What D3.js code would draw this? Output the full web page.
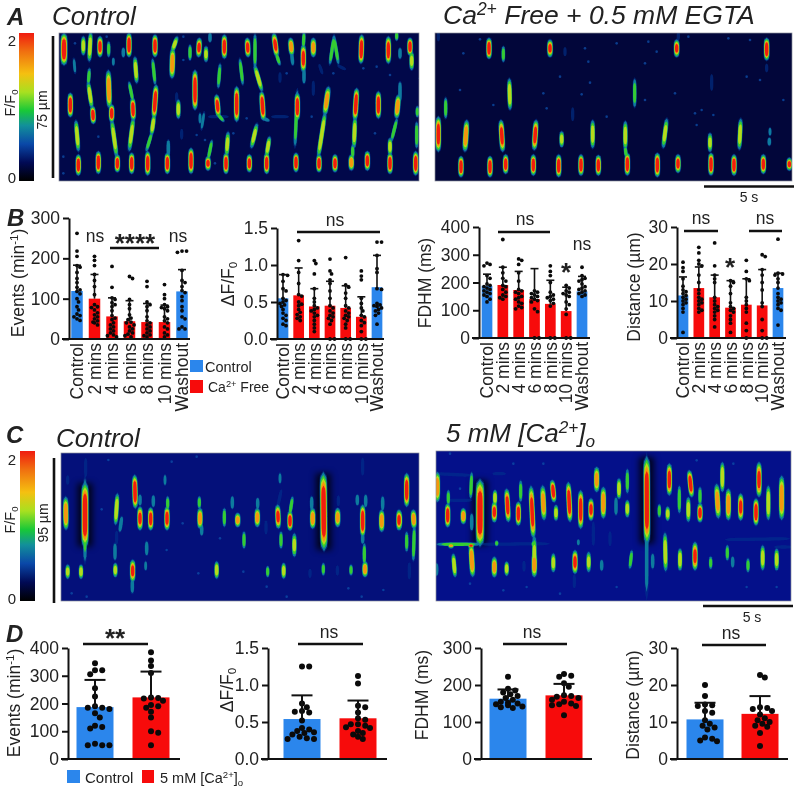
<!DOCTYPE html>
<html><head><meta charset="utf-8">
<script src="https://cdnjs.cloudflare.com/ajax/libs/d3/7.8.5/d3.min.js"></script>
<style>html,body{margin:0;padding:0;background:#fff}svg{display:block}
text{font-family:"Liberation Sans",Arial,sans-serif;fill:#222}</style></head><body>
<svg id="c" width="800" height="800"></svg>
<script>
// ---------- bar chart data ----------
const minuteCats = ["Control","2 mins","4 mins","6 mins","8 mins","10 mins","Washout"];
const twoCats = ["Control","5 mM"];
const eventsMeanB = [119,100,56,44,42,42,118];
const eventsUpperB = [183,160,102,95,88,84,172];
const eventsDotsB = [
 [262,218,205,182,178,165,150,140,128,122,118,112,100,92,80,72,62,58,55,50,46],
 [205,195,182,160,145,130,110,85,80,78,72,65,60,55,50,45,42,40,35],
 [180,128,102,98,90,85,80,70,58,52,48,40,35,30,25,20,15,10,8,5],
 [155,150,98,85,75,60,52,48,42,40,35,30,25,20,15,12,8,5],
 [143,130,92,85,80,70,55,45,40,35,30,25,20,15,10,8,5],
 [135,110,100,85,80,78,75,70,55,50,45,40,30,25,15,10,5],
 [218,218,215,170,145,140,130,120,115,105,95,80,70,55,50,30,25,25]];
const dffMeanB = [0.55,0.59,0.44,0.45,0.42,0.30,0.70];
const dffUpperB = [0.87,0.96,0.68,0.78,0.72,0.57,1.13];
const dffDotsB = [
 [0.87,0.86,0.78,0.68,0.65,0.55,0.52,0.50,0.48,0.46,0.44,0.4,0.35,0.32,0.28,0.25,0.2,0.18],
 [1.33,1.06,0.9,0.75,0.6,0.58,0.5,0.47,0.45,0.4,0.36,0.33,0.3,0.28,0.25],
 [1.06,1.02,0.88,0.68,0.55,0.5,0.45,0.42,0.4,0.38,0.35,0.32,0.3,0.25,0.2,0.15,0.1],
 [1.08,0.92,0.88,0.8,0.75,0.65,0.55,0.45,0.42,0.38,0.35,0.32,0.3,0.28,0.25,0.2,0,0],
 [1.1,0.73,0.7,0.62,0.55,0.45,0.42,0.38,0.35,0.32,0.3,0.28,0.25,0.2,0.15,0,0],
 [0.92,0.85,0.8,0.55,0.48,0.42,0.38,0.32,0.3,0.25,0.22,0.18,0.1,0,0],
 [1.31,1.31,1.13,0.95,0.9,0.68,0.67,0.48,0.46,0.45,0.44,0.42,0.4,0.38,0.35,0.32,0.2]];
const fdhmMeanB = [188,191,173,140,123,97,168];
const fdhmUpperB = [230,255,240,250,208,183,222];
const fdhmDotsB = [
 [270,265,260,225,215,195,190,185,180,175,170,165,160,155,150,140,130],
 [355,255,235,215,205,190,185,175,165,155,150,145,140],
 [285,280,265,235,205,175,170,165,160,150,145,140,130,125,115,110,105],
 [170,165,160,155,150,145,140,135,130,105,95,0,0],
 [260,240,225,200,165,155,150,145,140,135,125,115,0,0],
 [190,180,170,165,160,155,150,130,120,105,85,0,0],
 [255,225,215,210,205,195,185,180,175,170,165,160,155,150]];
const distMeanB = [11.5,13.5,11,8.2,9,8.8,13.5];
const distUpperB = [16.5,19.2,17,15.5,16,18.5,17.5];
const distDotsB = [
 [20.5,19,18,16,14,13,12.5,12,11.5,11,10.5,10,9.5,9,8,7,1.5],
 [24.5,23,21,20,19.5,17,15,13,12,11,10.5,10,9.5,9,8,7.5,7],
 [25.7,19.5,17,16,15,11,10,9,8.5,8,7.5,7,6,5,3],
 [15.5,15,14,12,9.5,8.5,8,7.5,7,6,5,4,1.5],
 [21,18,16,15.5,11,10,9,8,7,4,2,0],
 [22.5,22,18.5,17,15,13,9.5,8.5,5,2,0,0],
 [26.7,17.5,17.3,17,16,15,13.5,12,11,10.5,10,9.5,9,8,7.5,3.5]];
const eventsMeanD = [187,222], eventsUpperD = [285,315];
const eventsDotsD = [
 [345,320,320,305,255,225,190,185,185,180,165,150,120,115,110,55,50,50,50],
 [385,355,335,310,222,220,218,210,195,190,185,170,150,100,95,50]];
const dffMeanD = [0.54,0.55], dffUpperD = [0.86,0.79];
const dffDotsD = [
 [1.25,1.25,0.75,0.7,0.65,0.64,0.63,0.52,0.42,0.4,0.38,0.36,0.35,0.33,0.3,0.28,0.27,0.27],
 [1.12,1.02,0.72,0.7,0.63,0.55,0.53,0.47,0.47,0.45,0.43,0.42,0.38,0.35,0.33,0.3,0.27]];
const fdhmMeanD = [163,172], fdhmUpperD = [188,203];
const fdhmDotsD = [
 [222,190,185,180,175,170,165,160,155,152,150,148,145,142,140,138],
 [230,225,222,205,195,172,170,168,165,160,155,150,148,145,143,118]];
const distMeanD = [10.7,12.2], distUpperD = [15.2,17];
const distDotsD = [
 [20,17,14.7,14.5,14.3,13,12.5,10.5,9.5,9,8.5,8,5.8,5.5,5,4.8],
 [22.7,22,14,13.8,13.5,13,12,11,10.5,10,9.5,9,8.7,7,3.5]];
const barColorsB = ["#2b86ec","#f70b0b","#f70b0b","#f70b0b","#f70b0b","#f70b0b","#2b86ec"];
const barColorsD = ["#2b86ec","#f70b0b"];

// ---------- line-scan data: [line0, pixel0, line1, pixel1, peak F/F0, width factor] ----------
const scanAControl = [
[192,105,192,190,2,1.25],[250,115,250,160,1.3],[272,100,268,180,1.3],[300,115,300,165,1.8],[326,130,326,165,1],[370,150,370,165,.8],
[387,105,387,165,2],[465,110,465,165,1.9],[530,115,518,150,1.2],[518,150,516,230,1.6],[570,140,570,175,1.1],[598,120,596,165,1.7],
[618,145,618,180,1.2],[630,105,630,120,.8],[673,110,673,170,1.9],[742,120,744,165,1.8],[765,105,765,200,1.1],[765,200,785,270,1.3],
[785,280,790,355,2],[790,355,802,360,.9],[822,105,830,165,1.7],[830,165,838,190,1],[872,120,875,160,1.6],[875,160,878,190,.9],[912,100,910,140,1],
[910,140,910,210,1.8],[912,210,912,245,.8],[940,120,940,165,1.5],[1002,110,990,190,1.1],[1002,110,1015,190,1],[1085,110,1083,185,2],
[1165,115,1165,185,1.9],[1190,100,1190,115,1],[405,175,410,245,1.3],[222,180,225,215,.6],[268,210,265,250,1],[265,250,275,320,1.3],
[278,325,280,365,2],[211,285,211,345,2],[325,215,328,320,1.6],[335,320,335,360,2],[335,360,350,470,1.2],[352,470,352,510,2],
[340,180,340,190,.6],[388,250,398,300,1.1],[398,300,400,355,2],[400,355,388,450,1.2],[458,180,465,250,1.1],[468,260,462,350,2],
[462,350,455,400,1.4],[455,400,440,450,1],[535,305,535,350,1.4],[585,215,585,325,2],[660,195,655,260,1],[650,290,655,345,1.8],
[655,345,668,360,1],[710,265,710,360,2],[720,180,728,250,1.1],[612,340,605,385,.6],[228,365,235,450,1.3],[235,470,235,520,2],
[295,460,295,515,2],[395,465,395,515,2],[443,460,443,520,2],[502,465,502,515,2],[505,425,505,465,.8],[573,450,573,515,2],
[624,475,624,505,1.7],[635,425,625,475,1.1],[678,465,678,515,2],[684,400,680,465,1.2],[748,470,748,510,1.9],[770,375,755,440,1.2],
[800,465,800,515,2],[808,415,800,465,1.3],[892,285,892,355,2],[892,270,885,440,1.1],[888,465,888,510,2],[985,265,975,340,1.5],
[975,340,955,470,1.4],[957,470,957,510,2],[1070,270,1065,355,2],[1065,355,1062,440,1.3],[1135,280,1135,350,2],[1005,470,1005,510,1.9],
[1054,470,1054,505,1.6],[1058,440,1058,470,1],[1102,460,1102,505,1.9],[1170,420,1170,460,1.3],[1170,465,1170,515,2],[1195,290,1190,350,1.6],
[1190,360,1175,420,1.1],[1230,120,1230,160,2],[1235,160,1235,205,1.2],[1200,150,1200,170,.8],[1200,250,1200,300,.9],[1252,325,1252,345,1],
[1250,370,1250,440,1.1],[1247,460,1247,520,2],[545,395,545,410,.5],[630,350,680,350,.4],[820,350,860,350,.4],[530,285,530,300,.45],
[840,225,840,240,.45],[940,250,940,280,.5],[600,345,600,365,.6],[1020,200,1030,205,.4],[960,200,965,215,.4]];
const specksAControl = [[225,130],[320,110],[550,110],[550,180],[190,470],[295,410],[590,405],[615,420],[645,490],[700,400],[860,220],[1000,220],[1090,205],[1130,200],[1125,400],[740,355],[935,350],[1170,225],[1260,235],[190,520]];
const scanAFree = [
[267,120,267,170,2],[310,145,310,180,1.1],[450,125,450,165,1.7],[830,125,830,165,1.7],[1100,120,1100,175,2],[835,105,835,112,.5],
[328,240,330,325,1.4],[704,240,704,318,1],[935,230,935,265,.55],[137,298,137,350,1.1],[115,355,115,450,1.9],[200,365,195,450,1.6],
[303,365,308,450,1.8],[408,365,403,445,1.8],[485,400,485,435,1.3],[578,365,578,440,1.3],[676,368,676,445,1.3],[800,360,790,440,1.2],
[1022,360,1018,445,1.3],[930,405,930,450,1.2],[1110,390,1110,400,.6],[1108,420,1108,430,.7],[518,330,518,355,.5],[183,475,183,525,2],
[270,475,270,525,2],[317,470,317,515,2],[400,470,400,520,2],[476,470,476,525,2],[543,470,543,520,2],[595,472,595,520,2],[682,465,682,520,2],
[676,445,678,465,1],[772,465,772,525,2],[834,470,834,512,1.8],[933,465,933,520,2],[1002,470,1002,520,2],[1090,470,1090,515,1.9],[1168,480,1168,505,1.7],
[115,105,115,115,.5],[495,150,495,160,.4],[1100,200,1100,208,.45]];
const specksAFree = [[240,118],[190,160],[555,145],[770,155],[565,185],[985,115],[1050,120],[180,270],[430,280],[280,315],[545,283],[440,325],[620,350],[735,300],[825,280],[885,340],[905,330],[940,345],[1150,300],[1080,240],[890,375],[735,190],[480,230],[570,248],[1040,230],[650,130],[745,125],[865,110]];
const scanCControl = [
[255,190,255,380,2,1.3],[255,170,255,430,1.1],[197,235,198,325,1.6],[203,440,203,470,1.3],[243,440,243,470,1.4],[203,175,203,185,.5],[257,120,257,165,.4],
[352,225,347,310,1.4],[365,295,360,330,.9],[345,375,345,415,.9],[346,435,346,465,1.3],[350,340,350,365,.45],[404,170,406,260,2],[420,230,420,250,.9],
[420,265,420,325,1.7],[398,425,398,480,1.7],[397,480,397,515,.7],[460,232,460,255,.9],[452,268,452,325,1.8],[440,370,440,400,.9],[437,430,437,445,.6],
[495,170,495,190,.6],[503,235,503,265,1],[501,265,501,325,1.8],[598,235,598,260,1],[600,270,600,320,1.6],[605,320,605,340,.9],[650,430,650,470,1.4],
[673,270,673,315,1.1],[697,235,697,260,.9],[713,285,713,315,1.5],[732,340,732,380,1.1],[773,240,773,260,.9],[772,270,772,315,1.5],[803,445,803,465,1.1],
[798,310,798,335,.5],[840,165,840,185,.6],[843,215,833,260,.5],[833,260,835,320,1.7],[843,340,843,380,1.1],[851,435,851,470,1.4],[877,235,870,280,1.1],
[870,280,870,325,1.9],[883,345,883,405,1.2],[935,235,935,265,.9],[938,270,938,320,1.6],[970,160,972,390,2,1.3],[970,435,970,460,1],[1013,270,1013,315,1.5],
[1015,235,1015,250,.5],[1053,440,1053,460,1],[930,455,930,465,.45],[1012,445,1012,458,.5],[1072,230,1072,250,.8],[1088,260,1088,345,2],[1097,230,1097,255,.9],
[1088,120,1088,160,.4],[1093,375,1093,430,1.1],[1095,430,1095,465,1.6],[1088,345,1088,365,.9],[1148,235,1148,265,.9],[1145,275,1145,330,1.6],[1197,275,1197,325,1.7],
[1220,165,1220,255,1.9],[1200,280,1200,320,1.3],[1240,275,1242,320,1.6],[1243,320,1240,420,1.1],[1220,340,1220,390,1],[1228,435,1228,470,.5]];
const specksCControl = [[305,268],[548,310],[660,355],[595,460],[730,455],[500,390],[215,520],[1045,505],[1150,510],[800,500],[325,120],[515,125],[590,110],[860,530],[260,530],[1085,530]];
const scanCHigh = [
[112,160,112,240,1.6],[145,215,145,250,1],[143,255,143,315,1.9],[215,160,212,230,1.1],[190,270,190,305,1.6],[215,285,215,325,.9],[240,180,240,375,2,1.5],
[285,215,285,250,1.4],[283,250,283,300,1.7],[320,210,325,300,1.8],[362,185,362,240,1],[355,250,355,310,1.9],[393,200,400,350,1.8],[403,350,403,465,1.2],
[428,200,432,295,1.5],[457,185,462,240,1.9],[468,260,468,295,1.3],[505,190,510,300,1.9],[542,215,542,320,1.9],[573,240,573,295,1.7],[590,145,590,210,1.5],
[610,205,610,290,1.6],[657,180,657,230,1.4],[648,235,648,280,.8],[682,150,682,215,1],[682,245,682,285,1.3],[740,95,740,540,.9],[740,110,741,370,2,1.2],
[778,258,778,285,1.1],[808,135,808,220,1.8],[803,265,803,295,1.3],[838,200,838,275,1.1],[868,155,875,225,1.9],[865,235,865,300,1.3],[900,205,900,250,1],
[900,255,900,300,1.8],[950,195,955,290,1.5],[967,130,967,210,1.4],[985,210,985,295,1.6],[1022,225,1022,295,1.7],[1068,240,1068,310,1.9],[1077,130,1077,225,1.7],
[1105,200,1105,295,1.4],[1145,170,1145,295,1.6],[110,435,110,460,.9],[160,405,165,465,1.4],[213,375,218,465,1.6],[283,415,283,465,1.5],[320,430,320,460,1.4],
[403,400,403,465,1.5],[372,430,372,445,.5],[460,405,460,450,1.3],[525,395,525,455,1.7],[523,470,523,495,.5],[566,400,566,450,1.2],[605,425,605,445,.9],
[695,395,690,440,1.1],[758,405,758,440,.8],[795,340,797,450,1.3],[840,390,840,445,1.4],[885,370,885,445,1.7],[932,415,932,440,1],[982,380,982,415,1],
[998,415,998,435,.9],[1044,420,1044,450,1],[1088,380,1088,445,1.3],[1130,390,1130,445,1.3],[110,372,240,372,1.1],[110,160,210,165,.5],[150,240,210,240,.5],
[285,160,310,160,.4],[240,372,450,370,.5],[153,375,153,377,1.5],[213,375,213,377,1.7],[290,368,290,370,1],[400,370,400,372,1],[535,365,535,367,.6],
[975,358,1170,355,.5],[1130,380,1170,380,.5],[580,310,580,370,.5],[630,340,630,370,.35]];
const specksCHigh = [[180,205],[340,130],[430,130],[150,100],[310,510],[380,500],[210,490],[650,500],[890,120],[1040,500],[1130,500],[480,520],[1000,130]];

// colour map of the F/F0 bars
const cmapDomain = [0,0.25,0.5,0.75,0.95,1.2,1.45,1.75,2];
const cmapColors = ["#000000","#010a55","#0a48a8","#12909a","#18c838","#a8e020","#f5c010","#f07010","#f01c10"];
const cmap = d3.scaleLinear().domain(cmapDomain).range(cmapColors).clamp(true);

const svg = d3.select("#c");
const defs = svg.append("defs");
defs.append("filter").attr("id","soft").append("feGaussianBlur").attr("stdDeviation",0.6);
defs.append("filter").attr("id","wideBlur").attr("x","-100%").attr("width","300%").append("feGaussianBlur").attr("stdDeviation",3);
const clipId = (function(){let n=0;return ()=>"clip"+(++n);})();

function rich(sel, parts){
  parts.forEach(p=>{
    const s = (typeof p==="string")?{t:p}:p;
    const ts = sel.append("tspan").text(s.t);
    if(s.sup){ts.attr("baseline-shift","0.5em").style("font-size","66%");}
    if(s.sub){ts.attr("baseline-shift","-0.3em").style("font-size","66%");}
  });
  return sel;
}
function label(x,y,parts,opt={}){
  const t = svg.append("text").attr("x",x).attr("y",y)
    .style("font-size",(opt.size||17)+"px")
    .style("font-style",opt.italic?"italic":"normal")
    .style("font-weight",opt.bold?"bold":"normal")
    .attr("text-anchor",opt.anchor||"start");
  if(opt.rotate) t.attr("transform",`rotate(-90 ${x} ${y})`);
  return rich(t,Array.isArray(parts)?parts:[parts]);
}

// ---------- heat maps ----------
const layers = [
 {level:0.3,color:0.42,w:6.6,ext:2.2,op:.6},{level:0.6,color:0.68,w:5.6,ext:1.6},{level:0.95,color:1.0,w:5,ext:.8},
 {level:1.2,color:1.25,w:4.4,ext:0},{level:1.45,color:1.6,w:3.9,ext:0},{level:1.7,color:2,w:3.4,ext:0}];
const spindleLine = d3.line().curve(d3.curveLinearClosed);
function spindle(x1,y1,x2,y2,hw){
  const dx=x2-x1, dy=y2-y1, len=Math.hypot(dx,dy)||1;
  const ux=dx/len, uy=dy/len, nx=-uy, ny=ux;
  const p=2+len/14, N=16, left=[], right=[];
  for(let i=0;i<=N;i++){
    const s=i/N*2-1, w=hw*Math.pow(Math.max(0,1-Math.pow(Math.abs(s),p)),.5);
    const px=x1+dx*(s+1)/2, py=y1+dy*(s+1)/2;
    left.push([px+nx*w,py+ny*w]); right.unshift([px-nx*w,py-ny*w]);
  }
  return spindleLine(left.concat(right));
}
function scan(box,domX,domY,bg,events,specks){
  const x = d3.scaleLinear().domain(domX).range([box.x0,box.x1]);
  const y = d3.scaleLinear().domain(domY).range([box.y0,box.y1]);
  const id = clipId();
  defs.append("clipPath").attr("id",id).append("rect")
    .attr("x",box.x0).attr("y",box.y0).attr("width",box.x1-box.x0).attr("height",box.y1-box.y0);
  svg.append("rect").attr("x",box.x0).attr("y",box.y0).attr("width",box.x1-box.x0).attr("height",box.y1-box.y0).attr("fill",bg);
  const outer = svg.append("g").attr("clip-path",`url(#${id})`);
  outer.append("g").attr("filter","url(#wideBlur)").selectAll("line").data(events.filter(e=>e[5])).join("line")
    .attr("x1",d=>x(d[0])).attr("x2",d=>x(d[2])).attr("y1",d=>y(d[1])).attr("y2",d=>y(d[3]))
    .attr("stroke","#000").attr("stroke-width",15).attr("opacity",.8);
  const g = outer.append("g").attr("filter","url(#soft)");
  g.selectAll("circle.speck").data(specks).join("circle").attr("class","speck")
    .attr("cx",d=>x(d[0])).attr("cy",d=>y(d[1])).attr("r",1.3).attr("fill",cmap(0.52)).attr("opacity",.75);
  layers.forEach(L=>{
    const act = events.filter(e=>e[4]>=L.level);
    g.append("g").selectAll("path").data(act).join("path")
      .attr("d",d=>{
        const a=d[4], f=Math.sqrt(Math.max(0,1-Math.pow(L.level/(a+0.25),2)));
        const x1=x(d[0]),y1=y(d[1]),x2=x(d[2]),y2=y(d[3]);
        const cx=(x1+x2)/2, cy=(y1+y2)/2, len=Math.hypot(x2-x1,y2-y1)||1;
        const half=len/2*f+L.ext+1;
        const ux=(x2-x1)/len, uy=len>1?(y2-y1)/len:1;
        const wf=(d[5]||1)*(a<0.7?0.5:a<1.2?0.62:a<1.5?0.8:1);
        return spindle(cx-ux*half,cy-uy*half,cx+ux*half,cy+uy*half,L.w/2*wf);
      })
      .attr("fill",cmap(L.color)).attr("opacity",L.op||1);
  });
  svg.append("rect").attr("x",box.x0).attr("y",box.y0).attr("width",box.x1-box.x0).attr("height",box.y1-box.y0)
    .attr("fill","none").attr("stroke","#8a8f9a").attr("stroke-width",.7);
}
scan({x0:59,x1:419,y0:33,y1:181},[177,1257],[99,543],"#01084a",scanAControl,specksAControl);
scan({x0:435,x1:792,y0:33,y1:181},[105,1176],[99,543],"#02063a",scanAFree,specksAFree);
scan({x0:61,x1:419,y0:453,y1:601},[183,1257],[99,543],"#04107a",scanCControl,specksCControl);
scan({x0:436,x1:791,y0:451,y1:601},[108,1173],[92,542],"#04108a",scanCHigh,specksCHigh);

// ---------- colour bars ----------
function colorbar(x,y0,y1,w){
  const s = d3.scaleLinear().domain([0,2]).range([y1,y0]);
  const id = clipId();
  const lg = defs.append("linearGradient").attr("id",id).attr("x1",0).attr("x2",0).attr("y1",1).attr("y2",0);
  cmapDomain.forEach((v,i)=>lg.append("stop").attr("offset",v/2).attr("stop-color",cmapColors[i]));
  svg.append("rect").attr("x",x).attr("y",s(2)).attr("width",w).attr("height",s(0)-s(2)).attr("fill",`url(#${id})`);
}
colorbar(19,33,181,15);
colorbar(20,451,601,15);
label(12,46,"2",{size:15,anchor:"middle"});
label(12,183,"0",{size:15,anchor:"middle"});
label(12,465,"2",{size:15,anchor:"middle"});
label(12,604,"0",{size:15,anchor:"middle"});
label(15,103,["F/F",{t:"0",sub:true}],{size:14.5,anchor:"middle",rotate:true});
label(15,520,["F/F",{t:"0",sub:true}],{size:14.5,anchor:"middle",rotate:true});
label(47,110,"75 µm",{size:14,anchor:"middle",rotate:true});
label(48,523,"95 µm",{size:14,anchor:"middle",rotate:true});
[[53,36,53,178],[54,458,54,603],[704,186.5,794,186.5],[703,606,793,606]].forEach(d=>{
  svg.append("line").attr("x1",d[0]).attr("y1",d[1]).attr("x2",d[2]).attr("y2",d[3]).attr("stroke","#111").attr("stroke-width",2.6);
});
label(749,202,"5 s",{size:14,anchor:"middle"});
label(752,622,"5 s",{size:14,anchor:"middle"});

// ---------- titles ----------
label(7,25,"A",{size:24,italic:true,bold:true});
label(52,25,"Control",{size:26,italic:true});
label(443,24,["Ca",{t:"2+",sup:true}," Free + 0.5 mM EGTA"],{size:26.5,italic:true});
label(7,226,"B",{size:24,italic:true,bold:true});
label(6,443,"C",{size:24,italic:true,bold:true});
label(56,447,"Control",{size:26,italic:true});
label(446,442,["5 mM [Ca",{t:"2+",sup:true},"]",{t:"o",sub:true}],{size:26,italic:true});
label(6,642,"D",{size:24,italic:true,bold:true});

// ---------- bar charts ----------
function swarm(vals,y,cx,r,maxOff){
  const placed=[];
  [...vals].sort((a,b)=>b-a).forEach(v=>{
    const py=y(v); let best=0, found=false;
    for(let k=0;k<=24&&!found;k++){
      const off=(k%2?1:-1)*Math.ceil(k/2)*r*0.8;
      if(Math.abs(off)>maxOff) continue;
      if(placed.every(p=>Math.hypot(p.x-(cx+off),p.y-py)>=r*1.75)){best=off;found=true;}
    }
    placed.push({x:cx+best,y:py});
  });
  return placed;
}
function barChart(c){
  const y = d3.scaleLinear().domain([0,c.ticks[c.ticks.length-1]]).range([c.bottom,c.top]);
  const step = (c.cLast-c.cFirst)/(c.cats.length-1);
  const x = d3.scaleBand().domain(c.cats).range([c.cFirst-step/2,c.cLast+step/2]).paddingInner(1-c.barW/step).paddingOuter((1-c.barW/step)/2);
  const g = svg.append("g");
  g.selectAll("rect").data(c.cats).join("rect")
    .attr("x",d=>x(d)).attr("width",x.bandwidth())
    .attr("y",(d,i)=>y(c.mean[i])).attr("height",(d,i)=>y(0)-y(c.mean[i]))
    .attr("fill",(d,i)=>c.colors[i]);
  c.cats.forEach((cat,i)=>{
    const cx=x(cat)+x.bandwidth()/2;
    g.append("g").selectAll("circle").data(swarm(c.dots[i],y,cx,c.r,c.maxOff)).join("circle")
      .attr("cx",d=>d.x).attr("cy",d=>d.y).attr("r",c.r).attr("fill","#0a0a0a");
    g.append("line").attr("x1",cx).attr("x2",cx).attr("y1",y(c.mean[i])).attr("y2",y(c.upper[i])).attr("stroke","#111").attr("stroke-width",c.ew);
    g.append("line").attr("x1",cx-c.cap).attr("x2",cx+c.cap).attr("y1",y(c.upper[i])).attr("y2",y(c.upper[i])).attr("stroke","#111").attr("stroke-width",c.ew);
  });
  const ya = svg.append("g").attr("transform",`translate(${c.ax},0)`)
    .call(d3.axisLeft(y).tickValues(c.ticks).tickSize(6).tickSizeOuter(0).tickPadding(3).tickFormat(c.fmt));
  ya.selectAll("path,line").attr("stroke","#111").attr("stroke-width",2);
  ya.selectAll("text").style("font-size","17.5px").style("font-family",'"Liberation Sans",Arial,sans-serif').attr("fill","#222");
  const xa = svg.append("g").attr("transform",`translate(0,${c.bottom})`)
    .call(d3.axisBottom(x).tickSize(0).tickSizeOuter(0));
  xa.select("path").remove();
  svg.append("line").attr("x1",c.ax-7).attr("x2",c.xEnd).attr("y1",c.bottom).attr("y2",c.bottom).attr("stroke","#111").attr("stroke-width",2);
  if(c.showCats){
    xa.selectAll("text").attr("transform","rotate(-90)").attr("x",-4).attr("y",0).attr("dy",".36em")
      .attr("text-anchor","end").style("font-size","17.5px").style("font-family",'"Liberation Sans",Arial,sans-serif').attr("fill","#222");
  } else xa.selectAll("text").remove();
}
const f0 = d3.format("d"), f1 = d3.format(".1f");
const bStyle = {cats:minuteCats,colors:barColorsB,showCats:true,r:1.9,ew:1.6,cap:4,maxOff:6};
const dStyle = {cats:twoCats,colors:barColorsD,showCats:false,r:3,ew:2,cap:10.5,maxOff:15,barW:37,top:648,bottom:759};
barChart({...bStyle,ax:69,xEnd:190,cFirst:77,cLast:182,barW:11.5,top:218,bottom:339,ticks:[0,100,200,300],fmt:f0,mean:eventsMeanB,upper:eventsUpperB,dots:eventsDotsB});
barChart({...bStyle,ax:277,xEnd:384,cFirst:283,cLast:377,barW:10.7,top:228,bottom:339,ticks:[0,.5,1,1.5],fmt:f1,mean:dffMeanB,upper:dffUpperB,dots:dffDotsB});
barChart({...bStyle,ax:479,xEnd:590,cFirst:487,cLast:582,barW:10.7,top:227,bottom:338,ticks:[0,100,200,300,400],fmt:f0,mean:fdhmMeanB,upper:fdhmUpperB,dots:fdhmDotsB});
barChart({...bStyle,ax:677,xEnd:786,cFirst:683,cLast:778,barW:10.7,top:227,bottom:338,ticks:[0,10,20,30],fmt:f0,mean:distMeanB,upper:distUpperB,dots:distDotsB});
barChart({...dStyle,ax:68,xEnd:180,cFirst:95,cLast:151,ticks:[0,100,200,300,400],fmt:f0,mean:eventsMeanD,upper:eventsUpperD,dots:eventsDotsD});
barChart({...dStyle,ax:268,xEnd:387,cFirst:302,cLast:358,ticks:[0,.5,1,1.5],fmt:f1,mean:dffMeanD,upper:dffUpperD,dots:dffDotsD});
barChart({...dStyle,ax:481,xEnd:592,cFirst:508,cLast:564,ticks:[0,100,200,300],fmt:f0,mean:fdhmMeanD,upper:fdhmUpperD,dots:fdhmDotsD});
barChart({...dStyle,ax:677,xEnd:788,cFirst:705,cLast:760,ticks:[0,10,20,30],fmt:f0,mean:distMeanD,upper:distUpperD,dots:distDotsD});

// axis titles
label(24,283,["Events (min",{t:"-1",sup:true},")"],{anchor:"middle",rotate:true,size:17.5});
label(234,284,["ΔF/F",{t:"0",sub:true}],{anchor:"middle",rotate:true,size:17.5});
label(431,283,"FDHM (ms)",{anchor:"middle",rotate:true,size:17.5});
label(640,287,"Distance (µm)",{anchor:"middle",rotate:true,size:17.5});
label(20,703,["Events (min",{t:"-1",sup:true},")"],{anchor:"middle",rotate:true,size:17.5});
label(233,690,["ΔF/F",{t:"0",sub:true}],{anchor:"middle",rotate:true,size:17.5});
label(428,695,"FDHM (ms)",{anchor:"middle",rotate:true,size:17.5});
label(639,705,"Distance (µm)",{anchor:"middle",rotate:true,size:17.5});

// significance bars
[[110,159,248],[297,380,232],[498,550,232],[684,718,231],[749,782,231],[83,148,644],[298,363,644],[503,567,644],[702,766,645]].forEach(d=>{
  svg.append("line").attr("x1",d[0]).attr("x2",d[1]).attr("y1",d[2]).attr("y2",d[2]).attr("stroke","#111").attr("stroke-width",2.4);
});
[[95,242,"ns"],[178,242,"ns"],[335,226,"ns"],[525,225,"ns"],[582,250,"ns"],[701,224,"ns"],[765,224,"ns"],[329,638,"ns"],[532,638,"ns"],[731,639,"ns"]].forEach(d=>
  label(d[0],d[1],d[2],{anchor:"middle",size:17.5}));
[[135,252,"****"],[566,281,"*"],[730,276,"*"],[115,647,"**"]].forEach(d=>label(d[0],d[1],d[2],{anchor:"middle",size:26,bold:true}));

// legends
[[190,360,13,12,"#2b86ec"],[190,380,13,13,"#f70b0b"],[67,770,13,13,"#2b86ec"],[142,770,12,13,"#f70b0b"]].forEach(d=>
  svg.append("rect").attr("x",d[0]).attr("y",d[1]).attr("width",d[2]).attr("height",d[3]).attr("fill",d[4]));
label(205,372,"Control",{size:14.5});
label(208,392,["Ca",{t:"2+",sup:true}," Free"],{size:14});
label(85,783,"Control",{size:15});
label(160,783,["5 mM [Ca",{t:"2+",sup:true},"]",{t:"o",sub:true}],{size:14.5});
</script></body></html>
